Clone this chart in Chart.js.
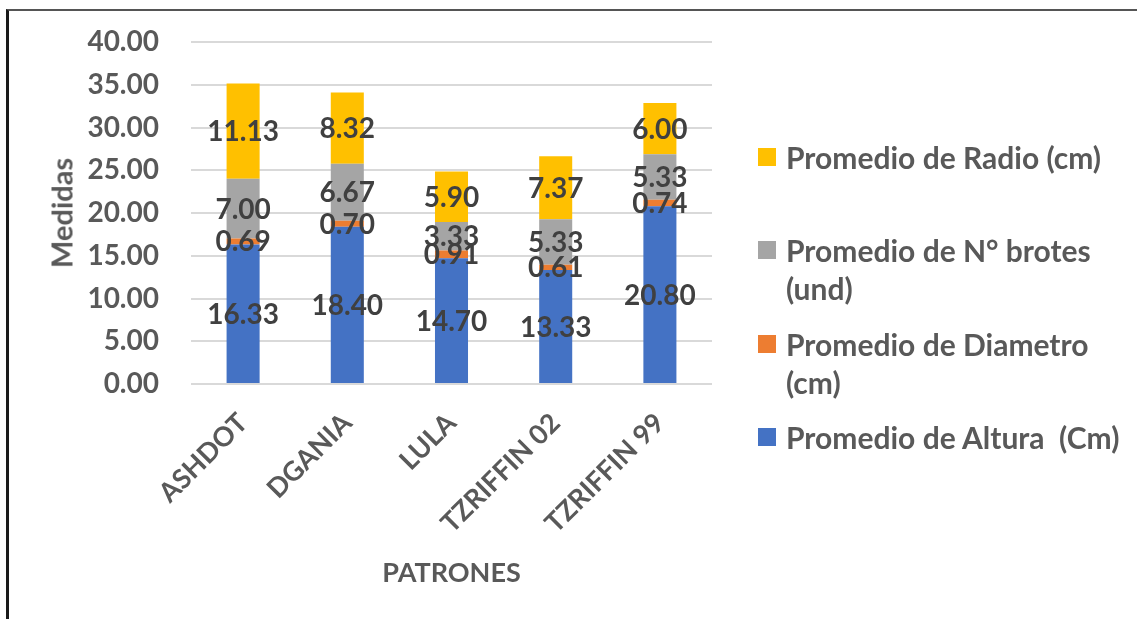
<!DOCTYPE html>
<html lang="es">
<head>
<meta charset="utf-8">
<title>Medidas por patrón</title>
<script src="https://cdn.jsdelivr.net/npm/chart.js@4.4.1/dist/chart.umd.min.js"></script>
<style>
  html, body { margin: 0; padding: 0; background: #fff; }
  #wrap { position: relative; width: 1137px; height: 619px; overflow: hidden; }
  #myChart { position: absolute; left: 0; top: 0; }
  #marco {
    position: absolute; left: 6px; top: 9px; right: -10px; bottom: -10px;
    border-top: 2px solid #555; border-left: 3px solid #1a1a1a;
    pointer-events: none;
  }
  #tituloY {
    position: absolute; left: 61px; top: 213px; white-space: nowrap;
    font: bold 29px Lato, sans-serif; color: #595959; line-height: 1;
    transform: translate(-50%, -50%) rotate(-90deg);
  }
  #leyenda { position: absolute; left: 758px; top: 0; width: 375px; }
  .item { position: absolute; left: 0; display: flex; align-items: flex-start; }
  .caja { width: 18px; height: 18px; margin-top: 10px; flex: none; }
  .texto {
    margin-left: 10px; font: bold 30px Lato, sans-serif; color: #595959;
    line-height: 38px; white-space: pre-wrap; width: 345px;
  }
</style>
</head>
<body>
<div id="wrap">
  <canvas id="myChart" width="1137" height="619"></canvas>
  <div id="tituloY">Medidas</div>
  <div id="leyenda"></div>
  <div id="marco"></div>
</div>
<script>
const patrones = ['ASHDOT', 'DGANIA', 'LULA', 'TZRIFFIN 02', 'TZRIFFIN 99'];
const altura = [16.33, 18.40, 14.70, 13.33, 20.80];
const diametro = [0.69, 0.70, 0.91, 0.61, 0.74];
const brotes = [7.00, 6.67, 3.33, 5.33, 5.33];
const radio = [11.13, 8.32, 5.90, 7.37, 6.00];

const ejeY = { min: 0, max: 40, paso: 5 };

const grisTexto = '#595959';

// valores escritos en el centro de cada segmento
const etiquetasValor = {
    id: 'etiquetasValor',
    afterDatasetsDraw(chart) {
        const ctx = chart.ctx;
        ctx.save();
        ctx.font = 'bold 28px Lato, sans-serif';
        ctx.fillStyle = '#404040';
        ctx.textAlign = 'center';
        ctx.textBaseline = 'middle';
        chart.data.datasets.forEach((ds, i) => {
            const meta = chart.getDatasetMeta(i);
            meta.data.forEach((bar, j) => {
                const p = bar.getCenterPoint();
                ctx.fillText(ds.data[j].toFixed(2), p.x, p.y + 1);
            });
        });
        ctx.restore();
    }
};

function generarLeyenda(chart) {
    const cont = document.getElementById('leyenda');
    cont.innerHTML = '';
    const lista = chart.data.datasets.slice().reverse();
    lista.forEach((ds, k) => {
        const item = document.createElement('div');
        item.className = 'item';
        item.style.top = (138 + k * 93.3) + 'px';
        item.innerHTML = `<div class="caja" style="background:${ds.backgroundColor}"></div>
            <div class="texto">${ds.label}</div>`;
        cont.appendChild(item);
    });
}

function generarGrafico() {
    const ctx = document.getElementById('myChart').getContext('2d');
    const chart = new Chart(ctx, {
        type: 'bar',
        data: {
            labels: patrones,
            datasets: [
                { label: 'Promedio de Altura  (Cm)', data: altura, backgroundColor: '#4472C4' },
                { label: 'Promedio de Diametro (cm)', data: diametro, backgroundColor: '#ED7D31' },
                { label: 'Promedio de N° brotes (und)', data: brotes, backgroundColor: '#A5A5A5' },
                { label: 'Promedio de Radio (cm)', data: radio, backgroundColor: '#FFC000' }
            ]
        },
        options: {
            responsive: false,
            animation: false,
            layout: { padding: { top: 42, right: 425, bottom: 0, left: 0 } },
            datasets: { bar: { barPercentage: 0.317, categoryPercentage: 1 } },
            plugins: { legend: { display: false }, tooltip: { enabled: false } },
            scales: {
                x: {
                    stacked: true,
                    grid: { display: false },
                    border: { display: false },
                    ticks: {
                        color: grisTexto,
                        font: { family: 'Lato', size: 27, weight: 'bold' },
                        minRotation: 45,
                        maxRotation: 45,
                        padding: 15,
                        labelOffset: 0
                    },
                    title: {
                        display: true,
                        text: 'PATRONES',
                        color: grisTexto,
                        font: { family: 'Lato', size: 27, weight: 'bold' },
                        padding: { top: 0, bottom: 30 }
                    },
                    afterFit(scale) { scale.height = 235; }
                },
                y: {
                    stacked: true,
                    min: ejeY.min,
                    max: ejeY.max,
                    grid: { color: '#d9d9d9', lineWidth: 2, drawTicks: false },
                    border: { display: false },
                    ticks: {
                        stepSize: ejeY.paso,
                        color: grisTexto,
                        font: { family: 'Lato', size: 28, weight: 'bold' },
                        padding: 32,
                        callback: v => v.toFixed(2)
                    },
                    // el título "Medidas" va en el div #tituloY
                    title: { display: false },
                    afterFit(scale) {
                        scale.width = 191;
                        scale.paddingTop = 0;
                        scale.paddingBottom = 0;
                    }
                }
            }
        },
        plugins: [etiquetasValor]
    });
    generarLeyenda(chart);
}

document.fonts.load('bold 28px Lato').then(generarGrafico, generarGrafico);
</script>
</body>
</html>
